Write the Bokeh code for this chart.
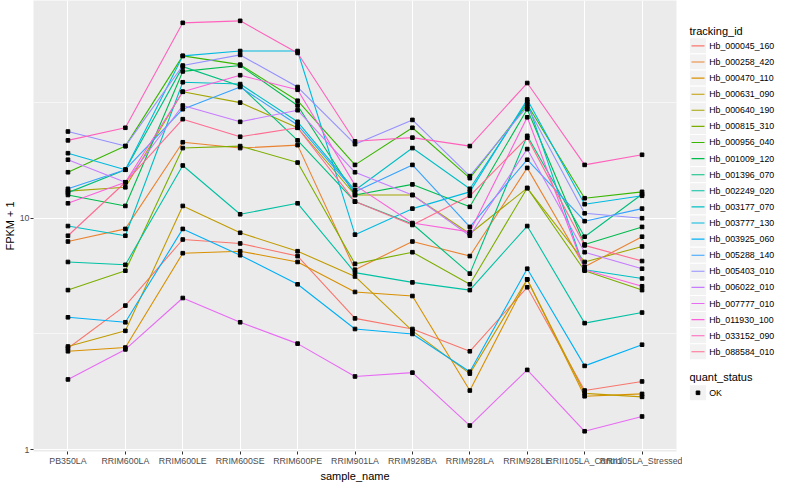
from bokeh.plotting import figure
from bokeh.models import Range1d, FixedTicker, BasicTickFormatter
from bokeh.layouts import row
from bokeh.embed import file_html
from bokeh.resources import INLINE
from bokeh.core.properties import value

samples = ["PB350LA", "RRIM600LA", "RRIM600LE", "RRIM600SE", "RRIM600PE", "RRIM901LA",
           "RRIM928BA", "RRIM928LA", "RRIM928LE", "RRII105LA_Control", "RRII105LA_Stressed"]

tracking_ids = ["Hb_000045_160", "Hb_000258_420", "Hb_000470_110", "Hb_000631_090", "Hb_000640_190",
                "Hb_000815_310", "Hb_000956_040", "Hb_001009_120", "Hb_001396_070", "Hb_002249_020",
                "Hb_003177_070", "Hb_003777_130", "Hb_003925_060", "Hb_005288_140", "Hb_005403_010",
                "Hb_006022_010", "Hb_007777_010", "Hb_011930_100", "Hb_033152_090", "Hb_088584_010"]

colors = ["#F8766D", "#EA8331", "#D89000", "#C09B00", "#A3A500", "#7CAE00", "#39B600", "#00BB4E",
          "#00BF7D", "#00C1A3", "#00BFC4", "#00BAE0", "#00B0F6", "#35A2FF", "#9590FF", "#C77CFF",
          "#E76BF3", "#FA62DB", "#FF62BC", "#FF6C91"]

quant_status = ["OK"]

Hb_000045_160 = [2.74, 4.19, 8.09, 7.78, 6.86, 3.69, 3.32, 2.66, 5.03, 1.80, 1.97]
Hb_000258_420 = [7.93, 8.99, 21.3, 20.1, 20.7, 5.99, 7.93, 6.86, 16.5, 6.17, 8.32]
Hb_000470_110 = [2.66, 2.76, 7.06, 7.20, 6.47, 4.80, 4.61, 1.80, 5.44, 1.70, 1.74]
Hb_000631_090 = [2.79, 3.26, 11.3, 8.65, 7.20, 5.60, 3.26, 2.13, 5.44, 1.75, 1.69]
Hb_000640_190 = [13.1, 13.6, 35.2, 31.6, 24.6, 12.6, 12.6, 8.57, 13.5, 6.47, 7.55]
Hb_000815_310 = [4.89, 5.93, 20.1, 20.5, 17.4, 6.35, 7.13, 5.18, 13.5, 5.93, 4.89]
Hb_000956_040 = [15.8, 20.5, 50.3, 46.1, 32.2, 17.0, 24.6, 14.9, 31.0, 12.2, 13.0]
Hb_001009_120 = [12.6, 11.3, 43.1, 45.7, 30.7, 12.6, 14.0, 11.2, 29.6, 7.70, 9.17]
Hb_001396_070 = [12.9, 16.2, 45.2, 37.3, 21.7, 11.8, 9.44, 5.76, 22.7, 8.32, 12.7]
Hb_002249_020 = [6.47, 6.29, 16.9, 10.4, 11.6, 5.82, 5.28, 4.89, 9.25, 3.52, 3.91]
Hb_003177_070 = [9.25, 8.40, 38.7, 38.0, 26.1, 13.2, 20.1, 13.4, 31.9, 5.99, 5.49]
Hb_003777_130 = [19.1, 16.2, 50.3, 52.8, 52.8, 8.49, 11.0, 13.0, 32.6, 11.5, 12.5]
Hb_003925_060 = [3.73, 3.55, 8.99, 6.92, 5.18, 3.32, 3.16, 2.17, 6.05, 2.30, 2.84]
Hb_005288_140 = [13.4, 16.2, 29.6, 36.9, 25.3, 13.0, 17.0, 9.17, 17.9, 9.71, 11.0]
Hb_005403_010 = [23.7, 20.5, 45.7, 50.8, 36.9, 20.9, 26.6, 15.2, 30.4, 10.5, 10.0]
Hb_006022_010 = [17.9, 14.3, 30.7, 26.1, 29.3, 15.8, 12.6, 8.40, 19.9, 7.13, 6.05]
Hb_007777_010 = [2.01, 2.71, 4.52, 3.55, 2.87, 2.07, 2.15, 1.27, 2.21, 1.20, 1.39]
Hb_011930_100 = [11.6, 14.3, 35.2, 41.5, 35.9, 13.9, 9.53, 8.73, 27.3, 5.99, 5.08]
Hb_033152_090 = [21.7, 24.6, 69.9, 71.3, 51.8, 21.5, 22.3, 20.5, 38.4, 17.0, 18.8]
Hb_088584_010 = [8.40, 14.3, 26.8, 22.5, 24.6, 11.8, 9.35, 12.5, 22.3, 7.63, 6.53]

series = [Hb_000045_160, Hb_000258_420, Hb_000470_110, Hb_000631_090, Hb_000640_190,
          Hb_000815_310, Hb_000956_040, Hb_001009_120, Hb_001396_070, Hb_002249_020,
          Hb_003177_070, Hb_003777_130, Hb_003925_060, Hb_005288_140, Hb_005403_010,
          Hb_006022_010, Hb_007777_010, Hb_011930_100, Hb_033152_090, Hb_088584_010]

FONT = "Liberation Sans"
xs = list(range(len(samples)))

p = figure(width=682, height=484, y_axis_type="log",
           x_range=Range1d(-0.6, len(samples) - 1 + 0.6),
           y_range=Range1d(0.981, 87.3),
           output_backend="svg", toolbar_location=None,
           min_border_left=27, min_border_right=6, min_border_top=0, min_border_bottom=24)
p.background_fill_color = "#EBEBEB"
p.border_fill_color = "white"
p.outline_line_color = None

p.xgrid.ticker = FixedTicker(ticks=xs)
p.xgrid.grid_line_color = "white"
p.xgrid.grid_line_width = 1.1
p.ygrid.ticker = FixedTicker(ticks=[1, 10, 100], minor_ticks=[0.3162, 3.162, 31.62])
p.ygrid.grid_line_color = "white"
p.ygrid.grid_line_width = 1.1
p.ygrid.minor_grid_line_color = "white"
p.ygrid.minor_grid_line_width = 0.55

p.xaxis.ticker = FixedTicker(ticks=xs)
p.xaxis.major_label_overrides = {i: s for i, s in enumerate(samples)}
p.yaxis.ticker = FixedTicker(ticks=[1, 10, 100], minor_ticks=[])
p.yaxis.formatter = BasicTickFormatter()
for ax in (p.xaxis, p.yaxis):
    ax.axis_line_color = None
    ax.major_tick_line_color = "#333333"
    ax.major_tick_out = 3
    ax.major_tick_in = 0
    ax.minor_tick_line_color = None
    ax.major_label_text_color = "#4D4D4D"
    ax.major_label_text_font = FONT
    ax.major_label_text_font_size = "8.8px"
    ax.major_label_standoff = 1
    ax.axis_label_text_font = FONT
    ax.axis_label_text_font_size = "11px"
    ax.axis_label_text_font_style = "normal"
    ax.axis_label_text_color = "black"
    ax.axis_label_standoff = 1
p.xaxis.axis_label = "sample_name"
p.yaxis.axis_label = "FPKM + 1"

for vals, c in zip(series, colors):
    p.line(xs, vals, line_color=c, line_width=1.1)
for vals in series:
    p.scatter(xs, vals, marker="square", size=3.6, color="black")

lg = figure(width=102, height=484, x_range=Range1d(0, 102), y_range=Range1d(484, 0),
            output_backend="svg", toolbar_location=None,
            min_border=0, min_border_left=0, min_border_right=0, min_border_top=0, min_border_bottom=0)
lg.axis.visible = False
lg.grid.visible = False
lg.outline_line_color = None
lg.background_fill_color = "white"
lg.border_fill_color = "white"

key_h = 17.28
y0 = 48.7
ky = [y0 + key_h * i for i in range(len(tracking_ids))]
lg.rect(x=15.5, y=ky, width=17.28, height=key_h, fill_color="#F2F2F2", line_color="white", line_width=1)
lg.segment(x0=9, y0=ky, x1=22, y1=ky, line_color=colors, line_width=1.1)
lg.text(x=26.7, y=ky, text=tracking_ids, text_font=value(FONT), text_font_size="8.8px",
        text_baseline="middle", text_align="left", text_color="black")
lg.text(x=[7], y=[33], text=["tracking_id"], text_font=value(FONT), text_font_size="11px",
        text_baseline="middle", text_align="left", text_color="black")

qy = [421]
lg.text(x=[7], y=[404], text=["quant_status"], text_font=value(FONT), text_font_size="11px",
        text_baseline="middle", text_align="left", text_color="black")
lg.rect(x=15.5, y=qy, width=17.28, height=key_h, fill_color="#F2F2F2", line_color="white", line_width=1)
lg.scatter(x=[15.5], y=qy, marker="square", size=3.6, color="black")
lg.text(x=26.7, y=qy, text=quant_status, text_font=value(FONT), text_font_size="8.8px",
        text_baseline="middle", text_align="left", text_color="black")

layout = row(p, lg)
open("out.html", "w").write(file_html(layout, INLINE))
